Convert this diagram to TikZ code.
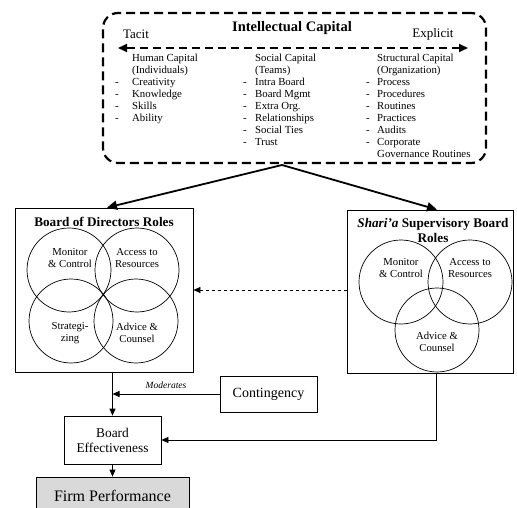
\documentclass[tikz,border=0pt]{standalone}
\usepackage{fontspec}
\setmainfont{Liberation Serif}
\usetikzlibrary{arrows.meta}
\begin{document}
\begin{tikzpicture}[x=1pt,y=-1pt,
  txt/.style={inner sep=0pt, font=\fontsize{10.8}{12}\selectfont},
  col/.style={txt, anchor=north west, align=left},
  rbox/.style={draw, line width=0.8pt, inner sep=0pt},
  ring/.style={draw, circle, line width=0.7pt, minimum size=84pt, inner sep=0pt},
  ctext/.style={inner sep=0pt, align=center, font=\fontsize{10.7}{12.3}\selectfont},
  big/.style={line width=1.8pt, -{Triangle[length=10pt,width=9pt]}},
  thin/.style={line width=0.8pt, -{Triangle[length=7pt,width=6pt]}}
]
\useasboundingbox (0,0) rectangle (517,508);

% Intellectual capital box
\node[draw, line width=2.2pt, dash pattern=on 9pt off 5pt, rounded corners=15pt,
      minimum width=383pt, minimum height=150pt] (ic) at (294.5,88) {};
\node[txt, font=\fontsize{14.5}{16}\selectfont\bfseries] (ictitle) at (292,28) {Intellectual Capital};
\node[txt, font=\fontsize{13}{15}\selectfont] (tacit) at (136,34) {Tacit};
\node[txt, font=\fontsize{13}{15}\selectfont] (explicit) at (433,34) {Explicit};
\coordinate (al) at (118,48);
\coordinate (ar) at (468,48);
\draw[line width=1.8pt, dash pattern=on 8pt off 5pt, {Triangle[length=9pt,width=8pt]}-{Triangle[length=9pt,width=8pt]}] (al) -- (ar);

\node[col] (human) at (115,53) {\begin{tabular}{@{}p{17pt}@{}l@{}}
 & Human Capital\\ & (Individuals)\\ - & Creativity\\ - & Knowledge\\ - & Skills\\ - & Ability\end{tabular}};
\node[col] (social) at (243,53) {\begin{tabular}{@{}p{12pt}@{}l@{}}
 & Social Capital\\ & (Teams)\\ - & Intra Board\\ - & Board Mgmt\\ - & Extra Org.\\ - & Relationships\\ - & Social Ties\\ - & Trust\end{tabular}};
\node[col] (struct) at (366,53) {\begin{tabular}{@{}p{11pt}@{}l@{}}
 & Structural Capital\\ & (Organization)\\ - & Process\\ - & Procedures\\ - & Routines\\ - & Practices\\ - & Audits\\ - & Corporate\\ & Governance Routines\end{tabular}};

% Board of directors box
\node[rbox, minimum width=178pt, minimum height=164pt] (bod) at (104,290) {};
\node[inner sep=0pt, font=\fontsize{13.2}{15}\selectfont\bfseries] (bodtitle) at (104,222) {Board of Directors Roles};
\node[ring] (c1) at (69,270) {};
\node[ring] (c2) at (137,270) {};
\node[ring] (c3) at (71,321) {};
\node[ring] (c4) at (136,321) {};
\node[ctext] (t1) at (70,258) {Monitor\\\& Control};
\node[ctext] (t2) at (137,258) {Access to\\Resources};
\node[ctext] (t3) at (70,333) {Strategi-\\zing};
\node[ctext] (t4) at (137,333) {Advice \&\\Counsel};

% Shari'a supervisory board box
\node[rbox, minimum width=166pt, minimum height=163pt] (ssb) at (430,291.5) {};
\node[inner sep=0pt, align=center, font=\fontsize{13.2}{15}\selectfont\bfseries] (ssbtitle) at (433,230) {\textit{Shari’a} Supervisory Board\\Roles};
\node[ring] (s1) at (401,282) {};
\node[ring] (s2) at (470,282) {};
\node[ring] (s3) at (437,330) {};
\node[ctext] (u1) at (401,268) {Monitor\\\& Control};
\node[ctext] (u2) at (470,268) {Access to\\Resources};
\node[ctext] (u3) at (437,342) {Advice \&\\Counsel};

% lower boxes
\node[rbox, minimum width=97pt, minimum height=36pt, font=\fontsize{14}{16}\selectfont] (cont) at (268.5,394) {Contingency};
\node[rbox, minimum width=97pt, minimum height=48pt, align=center, font=\fontsize{13.4}{15}\selectfont] (be) at (112.5,440) {Board\\Effectiveness};
\node[rbox, fill=black!15, minimum width=153pt, minimum height=38pt, font=\fontsize{16}{18}\selectfont] (fp) at (112.5,496) {Firm Performance};

% connectors
\coordinate (apex) at (282,165);
\draw[big] (apex) -- ([xshift=3pt]bod.north);
\draw[big] (apex) -- ([xshift=7pt]ssb.north);
\draw[thin, dashed, line width=0.6pt] (ssb.west |- 0,290) -- (bod.east |- 0,290);
\draw[thin] (bod.south -| be.north) -- (be.north);
\draw[thin] (cont.west) -- (cont.west -| be.north) node[midway, above=2pt, font=\fontsize{9.5}{11}\selectfont\itshape] (mod) {Moderates};
\draw[thin] ([xshift=6pt]ssb.south) |- (be.east);
\draw[thin] (be.south) -- (fp.north);
\end{tikzpicture}
\end{document}
